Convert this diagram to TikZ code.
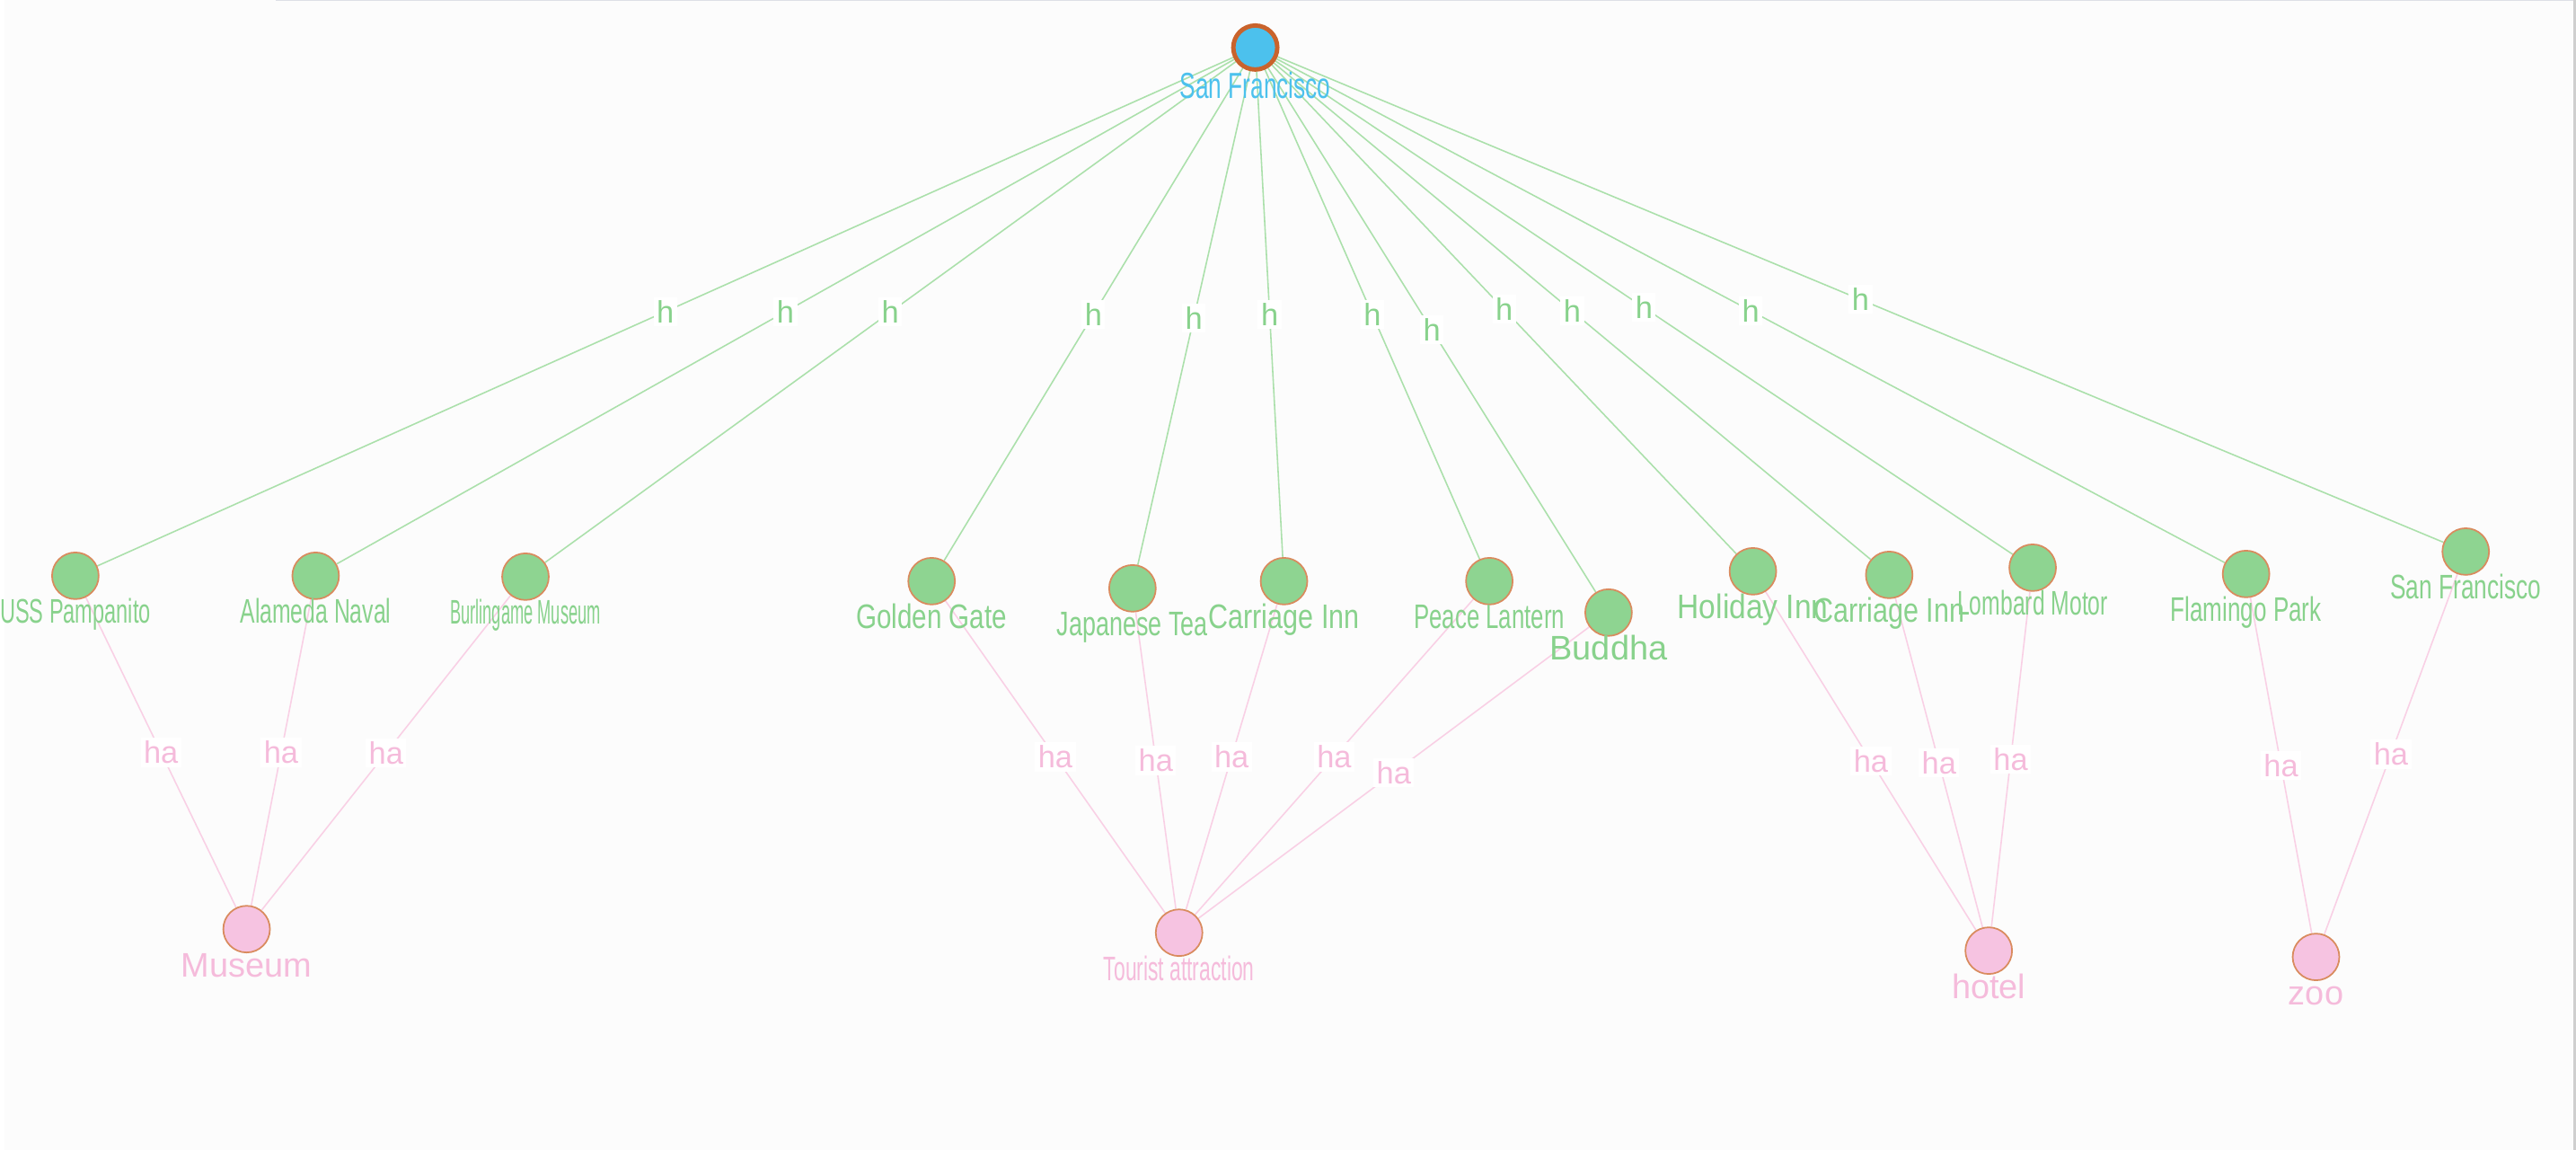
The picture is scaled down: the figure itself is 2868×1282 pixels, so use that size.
\documentclass[tikz,border=0pt]{standalone}
\usepackage{fontspec}
\setmainfont{Liberation Sans}
\usetikzlibrary{backgrounds}

\definecolor{canvas}{HTML}{FCFCFC}
\definecolor{frameline}{HTML}{DDE0E6}
\definecolor{framebar}{HTML}{CFCFCF}
\definecolor{sfblue}{HTML}{4CC1ED}
\definecolor{rim}{HTML}{D98B5E}
\definecolor{rootrim}{HTML}{C9632C}
\definecolor{placegreen}{HTML}{8ED491}
\definecolor{typepink}{HTML}{F6C3E1}
\definecolor{hline}{HTML}{ABE0AB}
\definecolor{haline}{HTML}{F9D0E5}
\definecolor{gtext}{HTML}{88D28C}
\definecolor{ptext}{HTML}{F5BBDB}

% squeeze long names to the common label width
\newlength\labw
\newcommand\fitname[1]{\settowidth\labw{#1}%
  \ifdim\labw>1.68cm\resizebox{1.68cm}{\height}{#1}\else#1\fi}

\tikzset{
  vtx/.style={circle, minimum size=0.52cm, inner sep=0pt, draw=rim, line width=0.5pt},
  place/.style={vtx, fill=placegreen},
  kind/.style={vtx, fill=typepink},
  root/.style={circle, minimum size=0.49cm, inner sep=0pt, draw=rootrim, line width=1.4pt,
    fill=sfblue},
  gname/.style={anchor=base, inner sep=0pt, text=gtext, font=\fontsize{10.8pt}{13pt}\selectfont},
  pname/.style={anchor=base, inner sep=0pt, text=ptext, font=\fontsize{10.8pt}{13pt}\selectfont},
  rname/.style={anchor=base, inner sep=0pt, text=sfblue, font=\fontsize{11.5pt}{13pt}\selectfont},
  hedge/.style={draw=hline, line width=0.45pt},
  haedge/.style={draw=haline, line width=0.45pt},
  hlab/.style={fill=white, inner sep=1pt, text=gtext, font=\fontsize{9.8pt}{11pt}\selectfont},
  halab/.style={fill=white, inner sep=1pt, text=ptext, font=\fontsize{9.8pt}{11pt}\selectfont},
}

\begin{document}
\begin{tikzpicture}[x=0.01cm, y=-0.01cm]
  % city
  \node[root] (sf) at (1395,53) {};
  \node[rname] (sft) at ([yshift=-0.57cm]sf) {\fitname{San Francisco}};
  % places
  \node[place] (g1) at (79,642) {};
  \node[place] (g2) at (347,642) {};
  \node[place] (g3) at (581,643) {};
  \node[place] (g4) at (1034,648) {};
  \node[place] (g5) at (1258,656) {};
  \node[place] (g6) at (1427,648) {};
  \node[place] (g7) at (1656,648) {};
  \node[place] (g8) at (1789,683) {};
  \node[place] (g9) at (1950,637) {};
  \node[place] (g10) at (2102,641) {};
  \node[place] (g11) at (2262,633) {};
  \node[place] (g12) at (2500,640) {};
  \node[place] (g13) at (2745,615) {};
  \node[gname] (g1t) at ([yshift=-0.53cm]g1) {\fitname{USS Pampanito}};
  \node[gname] (g2t) at ([yshift=-0.53cm]g2) {\fitname{Alameda Naval}};
  \node[gname] (g3t) at ([yshift=-0.53cm]g3) {\fitname{Burlingame Museum}};
  \node[gname] (g4t) at ([yshift=-0.53cm]g4) {\fitname{Golden Gate}};
  \node[gname] (g5t) at ([yshift=-0.53cm]g5) {\fitname{Japanese Tea}};
  \node[gname] (g6t) at ([yshift=-0.53cm]g6) {\fitname{Carriage Inn}};
  \node[gname] (g7t) at ([yshift=-0.53cm]g7) {\fitname{Peace Lantern}};
  \node[gname] (g8t) at ([yshift=-0.53cm]g8) {\fitname{Buddha}};
  \node[gname] (g9t) at ([yshift=-0.53cm]g9) {\fitname{Holiday Inn}};
  \node[gname] (g10t) at ([yshift=-0.53cm]g10) {\fitname{Carriage Inn}};
  \node[gname] (g11t) at ([yshift=-0.53cm]g11) {\fitname{Lombard Motor}};
  \node[gname] (g12t) at ([yshift=-0.53cm]g12) {\fitname{Flamingo Park}};
  \node[gname] (g13t) at ([yshift=-0.53cm]g13) {\fitname{San Francisco}};
  % kinds
  \node[kind] (museum) at (270,1036) {};
  \node[kind] (tourist) at (1310,1040) {};
  \node[kind] (hotel) at (2213,1060) {};
  \node[kind] (zoo) at (2578,1067) {};
  \node[pname] (museumt) at ([yshift=-0.53cm]museum) {\fitname{Museum}};
  \node[pname] (touristt) at ([yshift=-0.53cm]tourist) {\fitname{Tourist attraction}};
  \node[pname] (hotelt) at ([yshift=-0.53cm]hotel) {\fitname{hotel}};
  \node[pname] (zoot) at ([yshift=-0.53cm]zoo) {\fitname{zoo}};

  \begin{scope}[on background layer]
    \fill[canvas] (0,0) rectangle (2868,1282);
    \fill[frameline] (302,0) rectangle (2865,1);
    \fill[framebar] (2865,0) rectangle (2868,1282);
    % h edges from the city
    \foreach \g in {g1,g2,g3,g4,g5,g6,g7,g8,g9,g10,g11,g12,g13}
      \draw[hedge] (sf) -- node[hlab]{h} (\g);
    % ha edges to the kinds
    \foreach \g/\k in {g1/museum,g2/museum,g3/museum,
                       g4/tourist,g5/tourist,g6/tourist,g7/tourist,g8/tourist,
                       g9/hotel,g10/hotel,g11/hotel,g12/zoo,g13/zoo}
      \draw[haedge] (\g) -- node[halab]{ha} (\k);
  \end{scope}
\end{tikzpicture}
\end{document}
